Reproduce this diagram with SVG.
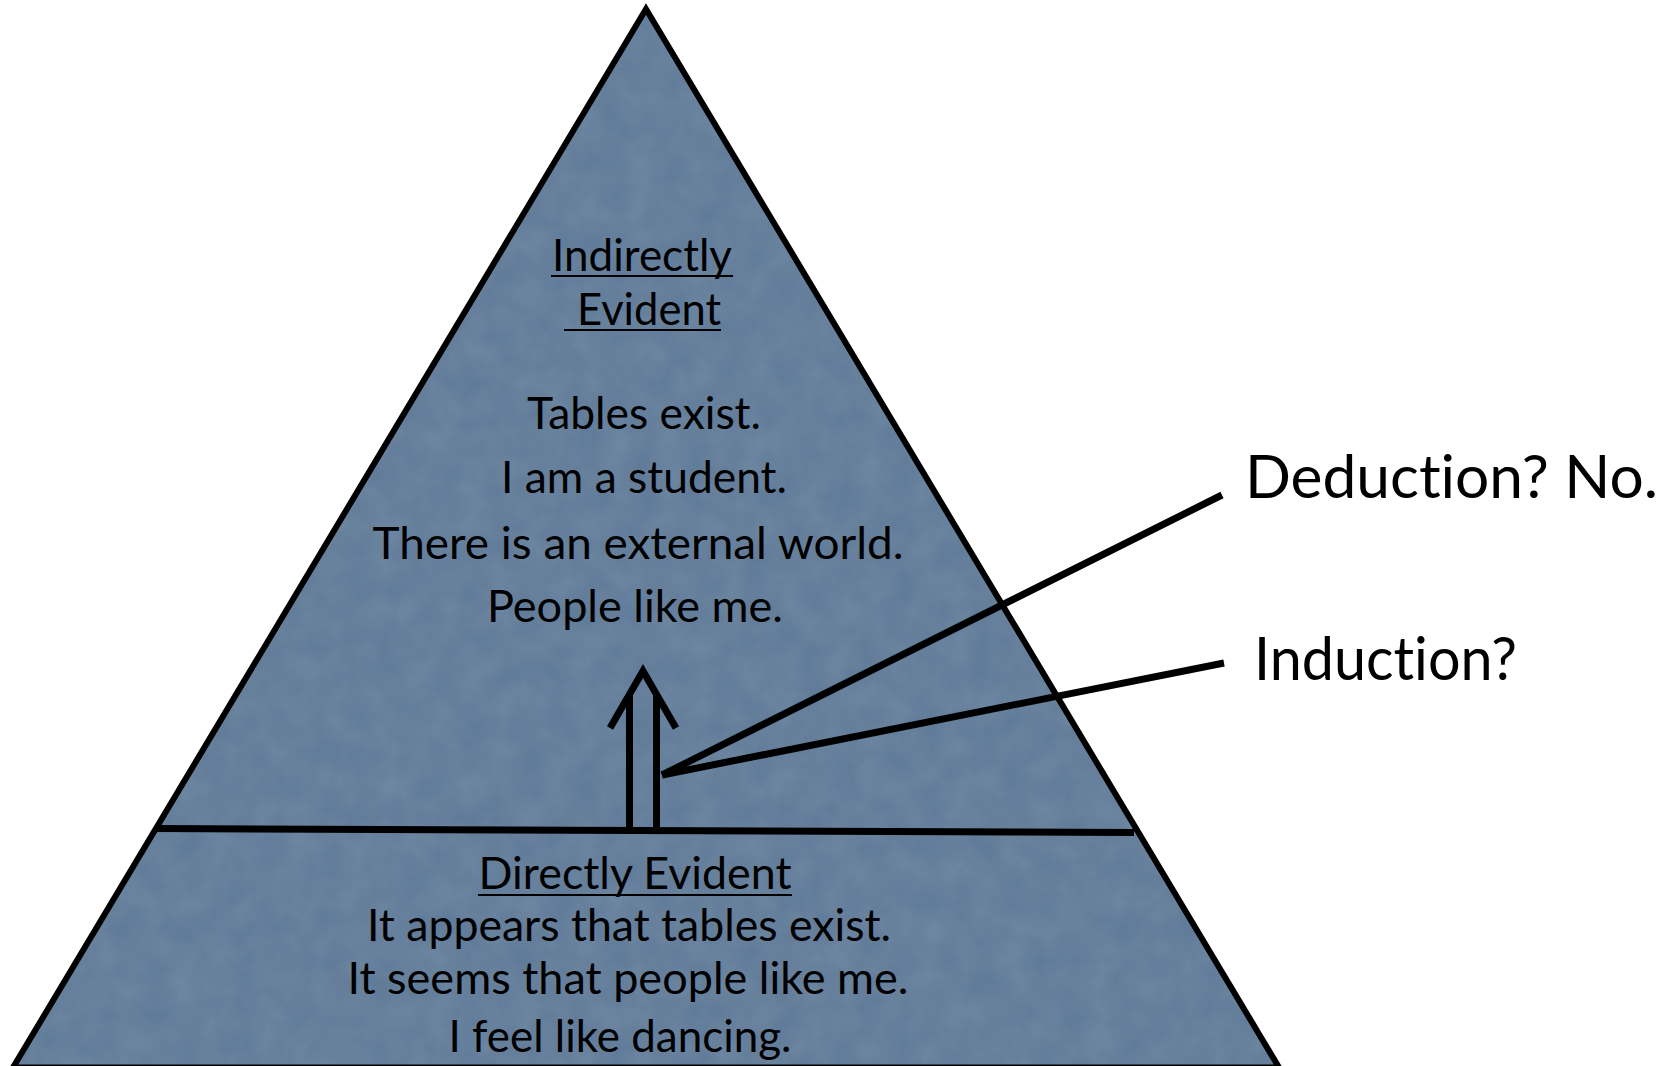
<svg xmlns="http://www.w3.org/2000/svg" width="1673" height="1066" viewBox="0 0 1673 1066">
<style>
.t{font-family:Lato,"Open Sans","Liberation Sans",sans-serif;fill:#000;font-variant-ligatures:none;}
.mid{font-size:44px;text-anchor:middle;}
.lab{font-size:60px;}
.ln{stroke:#000;fill:none;}
.ul{stroke:#000;stroke-width:2.2;}
</style>
<defs>
<filter id="grain" x="0" y="0" width="100%" height="100%">
<feTurbulence type="fractalNoise" baseFrequency="0.035" numOctaves="3" seed="4" result="n"/>
<feColorMatrix in="n" type="matrix" values="0 0 0 0 0.55  0 0 0 0 0.62  0 0 0 0 0.72  0 0 0 0.35 -0.05"/>
<feComposite in2="SourceGraphic" operator="in"/>
</filter>
</defs>
<rect width="1673" height="1066" fill="#ffffff"/>
<g id="pyramid">
<polygon points="646,9 13,1067.5 1279,1067.5" fill="#607b98"/>
<polygon points="646,9 13,1067.5 1279,1067.5" fill="#607b98" filter="url(#grain)" opacity="0.5"/>
<polygon points="646,9 13,1067.5 1279,1067.5" fill="none" stroke="#000" stroke-width="6" stroke-linejoin="miter"/>
<line class="ln" x1="157" y1="828.5" x2="1134" y2="832.5" stroke-width="7"/>
</g>
<g id="indirectly-evident">
<text class="t mid" x="642" y="271" textLength="180" lengthAdjust="spacingAndGlyphs">Indirectly</text>
<line class="ul" x1="551" y1="276" x2="733" y2="276"/>
<text class="t mid" x="649" y="325" textLength="144" lengthAdjust="spacingAndGlyphs">Evident</text>
<line class="ul" x1="564" y1="330" x2="721" y2="330"/>
<text class="t mid" x="644" y="429" textLength="234" lengthAdjust="spacingAndGlyphs">Tables exist.</text>
<text class="t mid" x="644" y="493" textLength="286" lengthAdjust="spacingAndGlyphs">I am a student.</text>
<text class="t mid" x="638" y="559" textLength="531" lengthAdjust="spacingAndGlyphs">There is an external world.</text>
<text class="t mid" x="635" y="622" textLength="296" lengthAdjust="spacingAndGlyphs">People like me.</text>
</g>
<g id="directly-evident">
<text class="t mid" x="635" y="889" textLength="313" lengthAdjust="spacingAndGlyphs">Directly Evident</text>
<line class="ul" x1="478" y1="895" x2="792" y2="895"/>
<text class="t mid" x="629" y="941" textLength="524" lengthAdjust="spacingAndGlyphs">It appears that tables exist.</text>
<text class="t mid" x="628" y="994" textLength="561" lengthAdjust="spacingAndGlyphs">It seems that people like me.</text>
<text class="t mid" x="620" y="1052" textLength="343" lengthAdjust="spacingAndGlyphs">I feel like dancing.</text>
</g>
<g id="inference-arrow">
<polyline class="ln" points="610,728 643,671 676,728" stroke-width="7" stroke-linejoin="miter" stroke-miterlimit="10"/>
<line class="ln" x1="629.5" y1="695" x2="629.5" y2="829" stroke-width="7"/>
<line class="ln" x1="656.5" y1="695" x2="656.5" y2="830" stroke-width="7"/>
</g>
<g id="connectors">
<line class="ln" x1="662" y1="775" x2="1222" y2="495" stroke-width="7"/>
<line class="ln" x1="662" y1="775" x2="1224" y2="663" stroke-width="7"/>
</g>
<g id="deduction-label">
<text class="t lab" x="1245" y="498" textLength="413" lengthAdjust="spacingAndGlyphs">Deduction? No.</text>
</g>
<g id="induction-label">
<text class="t lab" x="1254" y="680" textLength="263" lengthAdjust="spacingAndGlyphs">Induction?</text>
</g>
</svg>
